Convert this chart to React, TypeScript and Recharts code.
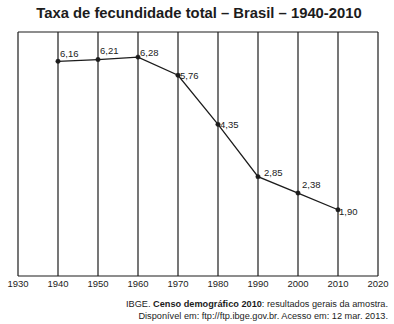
import { LineChart, Line, XAxis, YAxis, CartesianGrid, ReferenceLine, LabelList } from 'recharts';

const years = [1940, 1950, 1960, 1970, 1980, 1990, 2000, 2010];
const rates = [6.16, 6.21, 6.28, 5.76, 4.35, 2.85, 2.38, 1.9];
const decadeTicks = [1930, 1940, 1950, 1960, 1970, 1980, 1990, 2000, 2010, 2020];

// label nudges (dx, dy) relative to each point
const labelOffsets: Array<[number, number]> = [
  [2, -8], [2, -9], [2, -4], [2, 0], [2, 0], [6, -4], [4, -8], [1, 2],
];

const data = years.map((year, i) => ({ year, rate: rates[i] }));

const FONT = '"Liberation Sans", Arial, sans-serif';
const INK = '#1c1c1c';

function fmt(v: number) {
  return v.toFixed(2).replace('.', ',');
}

function PointLabel(props: any) {
  const { x, y, value, index } = props;
  const [dx, dy] = labelOffsets[index] ?? [2, 0];
  return (
    <text x={x + dx} y={y + dy} dy="0.35em" fontSize={9.5} fill={INK} fontFamily={FONT}>
      {fmt(Number(value))}
    </text>
  );
}

export default function App() {
  return (
    <div style={{ position: 'absolute', left: 0, top: 0, width: 394, height: 324, background: '#fff', fontFamily: FONT }}>
      <div
        style={{
          position: 'absolute', left: 0, top: 5, width: 398, textAlign: 'center',
          fontSize: 14.8, fontWeight: 'bold', color: INK,
        }}
      >
        Taxa de fecundidade total – Brasil – 1940-2010
      </div>
      <LineChart width={394} height={324} data={data} margin={{ top: 32, right: 16, left: 18, bottom: 28 }}>
        <CartesianGrid horizontal={false} stroke={INK} strokeWidth={1.2} />
        <XAxis
          dataKey="year"
          type="number"
          domain={[1930, 2020]}
          ticks={decadeTicks}
          tickLine={false}
          tickSize={0}
          tickMargin={4}
          height={20}
          axisLine={{ stroke: INK, strokeWidth: 1.2 }}
          tick={{ fontSize: 9.5, fill: INK, fontFamily: FONT }}
          interval={0}
        />
        <YAxis hide domain={[0, 7]} ticks={[0, 7]} />
        <ReferenceLine y={7} stroke={INK} strokeWidth={1.2} />
        <Line
          dataKey="rate"
          stroke={INK}
          strokeWidth={1.3}
          dot={{ r: 2.2, fill: INK, stroke: INK, strokeWidth: 0.5 }}
          isAnimationActive={false}
        >
          <LabelList dataKey="rate" content={<PointLabel />} />
        </Line>
      </LineChart>
      <div
        style={{
          position: 'absolute', right: 6, top: 298, textAlign: 'right',
          fontSize: 9.2, lineHeight: '12px', color: INK,
        }}
      >
        IBGE. <b>Censo demográfico 2010</b>: resultados gerais da amostra.
        <br />
        Disponível em: ftp://ftp.ibge.gov.br. Acesso em: 12 mar. 2013.
      </div>
    </div>
  );
}
